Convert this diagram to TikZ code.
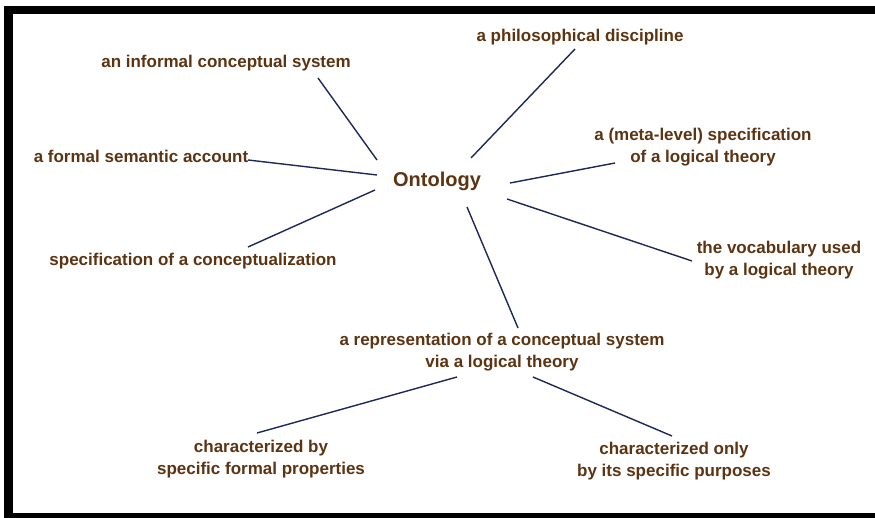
\documentclass[tikz,border=0pt]{standalone}
\usepackage{fontspec}
\setmainfont{Liberation Sans}
\usetikzlibrary{positioning}

\definecolor{termbrown}{RGB}{92,52,18}
\definecolor{linkblue}{RGB}{28,40,88}

\begin{document}
\begin{tikzpicture}[
    x=1pt, y=-1pt,
    every node/.style={align=center, inner sep=0pt, text=termbrown, font=\fontsize{17}{21.5}\selectfont\bfseries},
    root/.style={font=\fontsize{20}{24}\selectfont\bfseries},
    link/.style={draw=linkblue, line width=1.4pt}
]

% frame
\fill[white] (0,0) rectangle (875,518);
\fill[black] (4,6) rectangle (875,518);
\fill[white] (13,14) rectangle (875,513);
\useasboundingbox (0,0) rectangle (875,518);

\node[root] (ont) at (437,181) {Ontology};
\node (inf) at (226,63) {an informal conceptual system};
\node (phil) at (580,37) {a philosophical discipline};
\node (sem) at (141,156) {a formal semantic account};
\node (meta) at (703,147) {a (meta-level) specification\\of a logical theory};
\node (spec) at (193,261) {specification of a conceptualization};
\node (voc) at (779,260) {the vocabulary used\\by a logical theory};
\node (rep) at (502,352) {a representation of a conceptual system\\via a logical theory};
\node (props) at (261,459) {characterized by\\specific formal properties};
\node (purp) at (674,461) {characterized only\\by its specific purposes};

\draw[link] ([shift={(92,15)}]inf.center) -- ([shift={(-60,-21)}]ont.center);
\draw[link] ([shift={(107,4)}]sem.center) -- ([shift={(-60,-6)}]ont.center);
\draw[link] ([shift={(55,-14)}]spec.center) -- ([shift={(-62,9)}]ont.center);
\draw[link] ([shift={(-5,12)}]phil.center) -- ([shift={(34,-23)}]ont.center);
\draw[link] ([shift={(-88,16)}]meta.center) -- ([shift={(73,2)}]ont.center);
\draw[link] ([shift={(-87,1)}]voc.center) -- ([shift={(70,18)}]ont.center);
\draw[link] ([shift={(30,26)}]ont.center) -- ([shift={(16,-24)}]rep.center);
\draw[link] ([shift={(-45,25)}]rep.center) -- ([shift={(-4,-26)}]props.center);
\draw[link] ([shift={(31,25)}]rep.center) -- ([shift={(-2,-25)}]purp.center);

\end{tikzpicture}
\end{document}
